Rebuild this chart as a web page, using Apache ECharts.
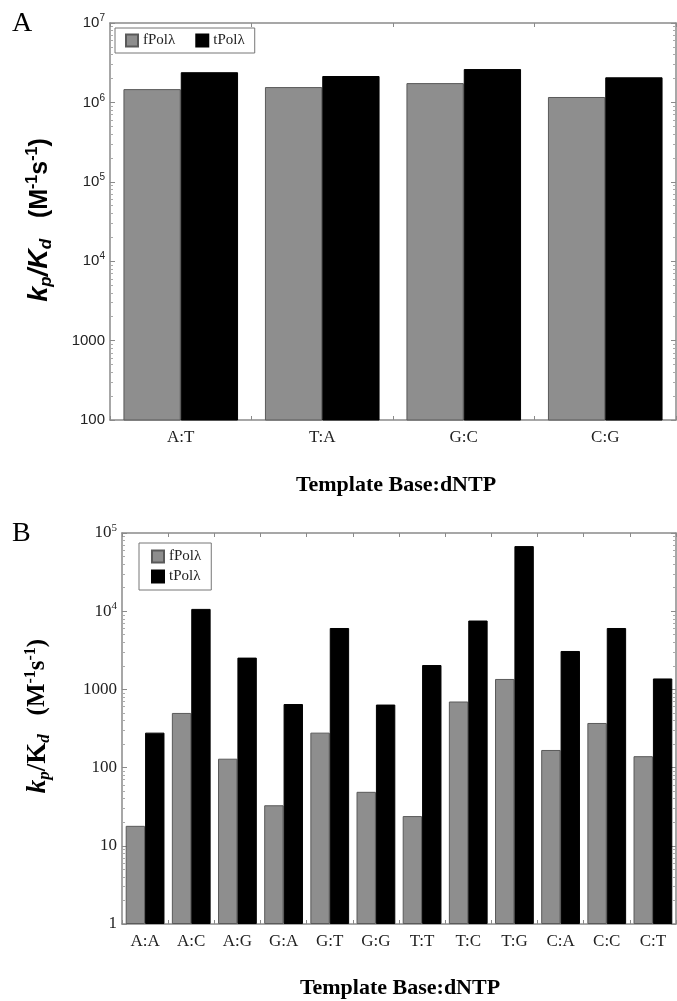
<!DOCTYPE html>
<html>
<head>
<meta charset="utf-8">
<script src="https://cdn.jsdelivr.net/npm/echarts@6/dist/echarts.min.js"></script>
<style>html,body{margin:0;background:#fff}#main{width:677px;height:1001px}</style>
</head>
<body>
<div id="main"></div>
<script>
// panel A: Watson-Crick pairs
var catsA = ['A:T', 'T:A', 'G:C', 'C:G'];
var fPolA = [1.47e6, 1.56e6, 1.75e6, 1.17e6];
var tPolA = [2.40e6, 2.15e6, 2.63e6, 2.07e6];
// panel B: mismatches
var catsB = ['A:A', 'A:C', 'A:G', 'G:A', 'G:T', 'G:G', 'T:T', 'T:C', 'T:G', 'C:A', 'C:C', 'C:T'];
var fPolB = [18, 500, 130, 33, 280, 49, 24, 700, 1360, 168, 372, 140];
var tPolB = [280, 10700, 2550, 650, 6100, 640, 2050, 7600, 68000, 3100, 6100, 1380];
var names = ['fPol\u03bb', 'tPol\u03bb'];

var SANS = '"Liberation Sans", Arial, sans-serif';
var SERIF = '"Liberation Serif", "Times New Roman", serif';
var AX = '#8a8a8a';

var myChart = echarts.init(document.getElementById('main'));

function expLabel(v) {
    var e = Math.round(Math.log10(v));
    return e >= 4 ? '{b|10}{sup|' + e + '}' : '{b|' + Math.round(v) + '}';
}

function yAxisFor(grid, min, max, right, font, size) {
    return {
        type: 'log', logBase: 10, gridIndex: grid, min: min, max: max,
        position: right ? 'right' : 'left',
        axisLine: { show: true, lineStyle: { color: AX, width: 1.5 } },
        axisTick: { show: true, inside: true, length: 5, lineStyle: { color: AX } },
        minorTick: { show: true, splitNumber: 9, length: 3, lineStyle: { color: '#aaa' } },
        splitLine: { show: false },
        axisLabel: {
            show: !right, margin: 5, formatter: expLabel,
            rich: {
                b: { fontFamily: font, fontSize: size, color: '#222', lineHeight: size + 4 },
                sup: { fontFamily: font, fontSize: Math.round(size * 0.65), color: '#222', verticalAlign: 'top', lineHeight: 8 }
            }
        }
    };
}

function xAxisFor(grid, cats, top) {
    return {
        type: 'category', gridIndex: grid, data: cats,
        position: top ? 'top' : 'bottom',
        axisLine: { show: true, lineStyle: { color: AX, width: 1.5 } },
        axisTick: { show: true, inside: true, length: 4, lineStyle: { color: AX } },
        axisLabel: { show: !top, margin: 9, fontFamily: SERIF, fontSize: 17, color: '#222' }
    };
}

function barSeries(name, x, y, data, gap) {
    var gray = name === names[0];
    return {
        name: name, type: 'bar', xAxisIndex: x, yAxisIndex: y, data: data,
        barGap: '0%', barCategoryGap: gap,
        itemStyle: { color: gray ? '#8e8e8e' : '#000', borderColor: gray ? '#5a5a5a' : '#000', borderWidth: 1 }
    };
}

function yTitle(x, y, font, kStyle) {
    return {
        type: 'text', x: x, y: y, rotation: Math.PI / 2,
        style: {
            text: '{i|k}{sub|p}{k|/K}{sub|d}{n|   (M}{sup|-1}{n|s}{sup|-1}{n|)}',
            align: 'center', verticalAlign: 'middle',
            rich: {
                i: { fontFamily: font, fontSize: 27, fontWeight: 'bold', fontStyle: 'italic', fill: '#000', lineHeight: 30 },
                k: { fontFamily: font, fontSize: 27, fontWeight: 'bold', fontStyle: kStyle, fill: '#000', lineHeight: 30 },
                n: { fontFamily: font, fontSize: 25, fontWeight: 'bold', fill: '#000', lineHeight: 30 },
                sub: { fontFamily: font, fontSize: 17, fontWeight: 'bold', fontStyle: 'italic', fill: '#000', verticalAlign: 'bottom', lineHeight: 14 },
                sup: { fontFamily: font, fontSize: 16, fontWeight: 'bold', fill: '#000', verticalAlign: 'top', lineHeight: 14 }
            }
        }
    };
}

var legendBase = {
    data: names, icon: 'rect', itemWidth: 12, itemHeight: 12,
    borderColor: '#777', borderWidth: 1,
    textStyle: { fontFamily: SERIF, fontSize: 15, color: '#222' }
};

var option = {
    animation: false,
    backgroundColor: '#fff',
    grid: [
        { left: 110, top: 23, width: 566, height: 397 },
        { left: 122, top: 533, width: 554, height: 391 }
    ],
    legend: [
        Object.assign({}, legendBase, { left: 115, top: 28, orient: 'horizontal', itemGap: 20, padding: [5, 10, 5, 10] }),
        Object.assign({}, legendBase, { left: 139, top: 543, orient: 'vertical', itemGap: 5, padding: [6, 10, 6, 12] })
    ],
    xAxis: [
        xAxisFor(0, catsA, false), xAxisFor(0, catsA, true),
        xAxisFor(1, catsB, false), xAxisFor(1, catsB, true)
    ],
    yAxis: [
        yAxisFor(0, 100, 1e7, false, SANS, 15), yAxisFor(0, 100, 1e7, true, SANS, 15),
        yAxisFor(1, 1, 1e5, false, SERIF, 17), yAxisFor(1, 1, 1e5, true, SERIF, 17)
    ],
    series: [
        barSeries(names[0], 0, 0, fPolA, '19%'),
        barSeries(names[1], 0, 0, tPolA, '19%'),
        barSeries(names[0], 2, 2, fPolB, '16%'),
        barSeries(names[1], 2, 2, tPolB, '16%')
    ],
    graphic: [
        { type: 'text', x: 12, y: 10, style: { text: 'A', fontFamily: SERIF, fontSize: 28, fill: '#000' } },
        { type: 'text', x: 12, y: 520, style: { text: 'B', fontFamily: SERIF, fontSize: 28, fill: '#000' } },
        yTitle(40, 220, SANS, 'italic'),
        yTitle(38, 716, SERIF, 'normal'),
        { type: 'text', x: 396, y: 485, style: { text: 'Template Base:dNTP', align: 'center', verticalAlign: 'middle', fontFamily: SERIF, fontWeight: 'bold', fontSize: 22, fill: '#000' } },
        { type: 'text', x: 400, y: 988, style: { text: 'Template Base:dNTP', align: 'center', verticalAlign: 'middle', fontFamily: SERIF, fontWeight: 'bold', fontSize: 22, fill: '#000' } }
    ]
};

myChart.setOption(option);
</script>
</body>
</html>
